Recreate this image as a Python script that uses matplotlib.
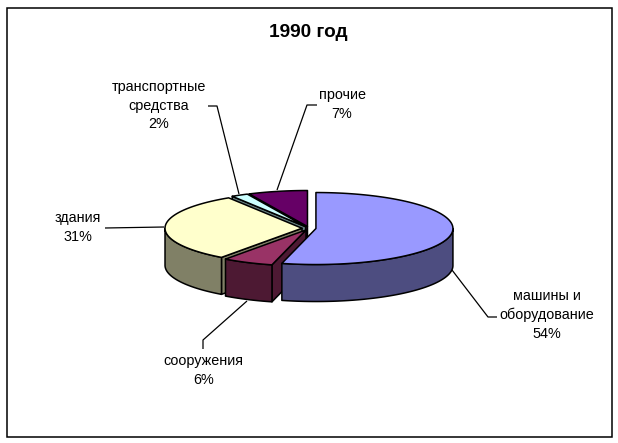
import numpy as np
import matplotlib
matplotlib.use("Agg")
import matplotlib.pyplot as plt
from matplotlib.patches import Polygon, Rectangle

categories = ["машины и\nоборудование", "сооружения", "здания", "транспортные\nсредства", "прочие"]
shares = [54, 6, 31, 2, 7]
top_colors = ["#9999FF", "#993366", "#FFFFCC", "#CCFFFF", "#660066"]
side_colors = ["#4D4D80", "#4D1933", "#808066", "#668080", "#330033"]
title = "1990 год"

W, H = 618, 443
CX, CY, RX, RY, DEPTH, EXPLODE = 309, 228.3, 137, 36, 37, 0.051
EDGE = dict(edgecolor="black", linewidth=1.1, joinstyle="round")

fig = plt.figure(figsize=(W / 100, H / 100), dpi=100)
ax = fig.add_axes([0, 0, 1, 1])
ax.set_xlim(0, W)
ax.set_ylim(H, 0)
ax.axis("off")
plt.rcParams["font.family"] = ["Liberation Sans", "DejaVu Sans"]

ax.add_patch(Rectangle((6.5, 7.5), 605, 429, fill=False, edgecolor="black", linewidth=1.1))
ax.text(308.5, 32.5, title, ha="center", va="center", fontsize=13.7, fontweight="bold", color="black")

total = sum(shares)
bounds = np.concatenate([[0], np.cumsum(shares)]) / total * 2 * np.pi


def rim(a, ox, oy, dz=0.0):
    return np.column_stack([ox + RX * np.sin(a), oy - RY * np.cos(a) + dz])


order = [4, 3, 2, 1, 0]
for i in order:
    a0, a1 = bounds[i], bounds[i + 1]
    mid = (a0 + a1) / 2
    ox = CX + EXPLODE * RX * np.sin(mid)
    oy = CY - EXPLODE * RY * np.cos(mid)
    arc = rim(np.linspace(a0, a1, 120), ox, oy)
    apex = np.array([ox, oy])
    down = np.array([0, DEPTH])
    # cut face at the slice's start, visible when it turns to the viewer
    if np.cos(a0 - np.pi / 2) < 0:
        p0 = rim(np.array([a0]), ox, oy)[0]
        ax.add_patch(Polygon([apex, p0, p0 + down, apex + down], facecolor=side_colors[i], **EDGE))
    if np.cos(a1 + np.pi / 2) < 0:
        p1 = rim(np.array([a1]), ox, oy)[0]
        ax.add_patch(Polygon([apex, p1, p1 + down, apex + down], facecolor=side_colors[i], **EDGE))
    # outer wall: the front half of the rim only
    lo, hi = max(a0, np.pi / 2), min(a1, 3 * np.pi / 2)
    if lo < hi:
        w = rim(np.linspace(lo, hi, 120), ox, oy)
        ax.add_patch(Polygon(np.vstack([w, (w + down)[::-1]]), facecolor=side_colors[i], **EDGE))
    ax.add_patch(Polygon(np.vstack([apex, arc]), facecolor=top_colors[i], **EDGE))

leaders = [
    ([452, 488, 497], [270, 317, 317]),
    ([247, 203, 203], [301, 340, 349]),
    ([164, 105], [227, 228]),
    ([239, 217, 208], [194, 106, 106]),
    ([277, 307, 317], [190, 105, 105]),
]
for xs, ys in leaders:
    ax.plot(xs, ys, color="black", lw=0.9, solid_capstyle="butt")

label_pos = [(546.5, 315), (203.5, 370.5), (77.5, 227.5), (158.5, 105.5), (342, 104.5)]
for name, share, (x, y) in zip(categories, shares, label_pos):
    ax.text(x, y, f"{name}\n{share}%", ha="center", va="center", fontsize=10.4,
            linespacing=1.42, color="black")

fig.savefig("out.png", dpi=100)
